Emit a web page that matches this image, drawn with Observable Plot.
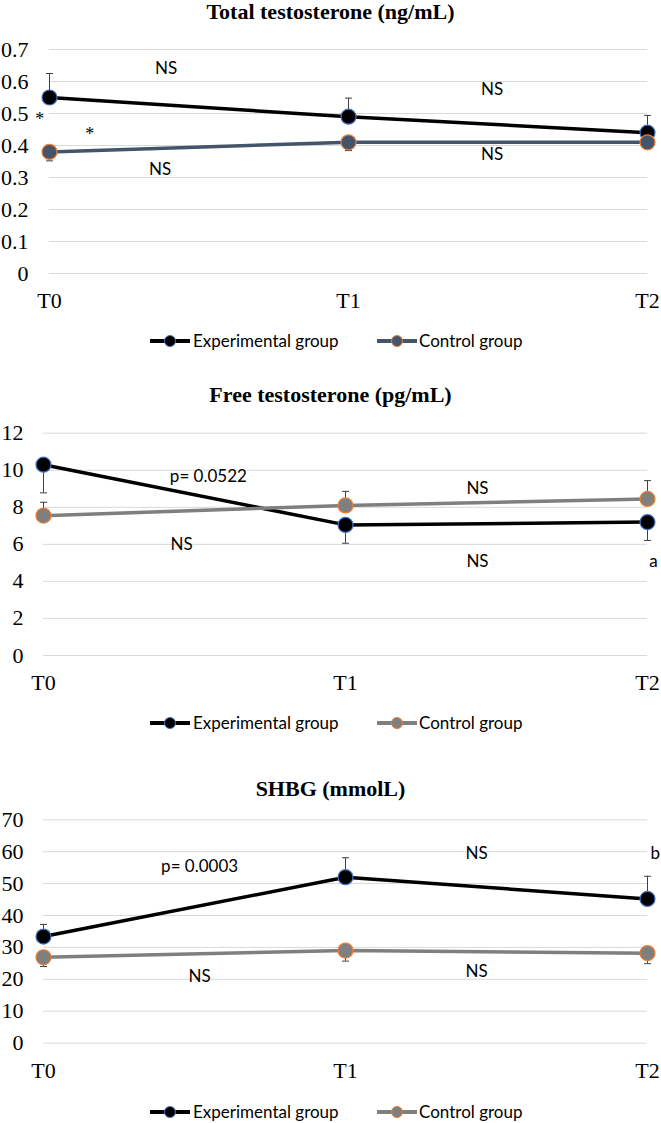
<!DOCTYPE html>
<html><head><meta charset="utf-8">
<script src="https://cdn.jsdelivr.net/npm/d3@7"></script>
<script src="https://cdn.jsdelivr.net/npm/@observablehq/plot@0.6"></script>
<style>
body{margin:0;background:#fff;}
#root{position:relative;width:661px;height:1123px;overflow:hidden;background:#fff;}
.title{position:absolute;left:0;width:661px;text-align:center;font:bold 22px "Liberation Serif",serif;line-height:22px;color:#000;}
.panel{position:absolute;left:0;}
.legend{position:absolute;left:0;width:661px;height:20px;font:17px Lato,sans-serif;color:#000;line-height:20px;}
.legend svg,.legend span{position:absolute;top:0;}
</style></head><body><div id="root"></div>
<script>
// ---- data ----
const times = ["T0", "T1", "T2"];

const ttTicks = [0, 0.1, 0.2, 0.3, 0.4, 0.5, 0.6, 0.7];
const ttExp = [0.55, 0.49, 0.44];
const ttExpErr = [0.075, 0.058, 0.054];
const ttCtl = [0.38, 0.41, 0.41];
const ttCtlErr = [-0.028, -0.026, -0.02];
const ttNotes = [
  {text: "NS", x: 0.39, y: 0.64},
  {text: "NS", x: 1.48, y: 0.575},
  {text: "NS", x: 1.48, y: 0.372},
  {text: "NS", x: 0.37, y: 0.325}
];
const ttStars = [
  {text: "*", x: -0.033, y: 0.494},
  {text: "*", x: 0.135, y: 0.447}
];

const ftTicks = [0, 2, 4, 6, 8, 10, 12];
const ftExp = [10.3, 7.05, 7.2];
const ftExpErr = [-1.52, -0.99, -0.99];
const ftCtl = [7.55, 8.1, 8.45];
const ftCtlErr = [0.72, 0.76, 0.99];
const ftNotes = [
  {text: "p= 0.0522", x: 0.546, y: 9.66},
  {text: "NS", x: 0.457, y: 5.99},
  {text: "NS", x: 1.437, y: 9.0},
  {text: "NS", x: 1.437, y: 5.07},
  {text: "a", x: 2.02, y: 5.07}
];

const shTicks = [0, 10, 20, 30, 40, 50, 60, 70];
const shExp = [33.4, 52.0, 45.2];
const shExpErr = [3.8, 6.1, 7.1];
const shCtl = [26.9, 29.0, 28.2];
const shCtlErr = [-2.9, -3.3, -3.3];
const shNotes = [
  {text: "p= 0.0003", x: 0.517, y: 55.5},
  {text: "NS", x: 0.517, y: 21.0},
  {text: "NS", x: 1.434, y: 59.3},
  {text: "NS", x: 1.434, y: 22.5},
  {text: "b", x: 2.026, y: 59.3}
];

const seriesNames = ["Experimental group", "Control group"];

// ---- drawing ----
const root = document.getElementById("root");
const capSymbol = {
  draw(ctx, size) {
    const r = Math.sqrt(size / Math.PI);
    ctx.moveTo(-r, 0);
    ctx.lineTo(r, 0);
  }
};
const serif = '"Liberation Serif", "Times New Roman", serif';
const sans = 'Lato, "Open Sans", sans-serif';

function rows(vals, errs) {
  return times.map((t, i) => ({x: i, t, v: vals[i], e: errs[i]}));
}

function panel(o) {
  const t = document.createElement("div");
  t.className = "title";
  t.style.top = (o.titleY - 11) + "px";
  t.textContent = o.title;
  root.appendChild(t);

  const exp = rows(o.exp, o.expErr);
  const ctl = rows(o.ctl, o.ctlErr);
  const err = exp.concat(ctl);
  const chart = Plot.plot({
    width: 661,
    height: o.height,
    marginLeft: o.marginLeft,
    marginRight: 14,
    marginTop: o.marginTop,
    marginBottom: o.marginBottom,
    style: {fontFamily: serif, fontSize: "22px", color: "#000", background: "transparent"},
    x: {type: "linear", domain: [0, 2]},
    y: {domain: [o.ticks[0], o.ticks[o.ticks.length - 1]]},
    marks: [
      Plot.gridY(o.ticks, {stroke: "#d9d9d9", strokeOpacity: 1, strokeWidth: 1}),
      Plot.axisY(o.ticks, {tickSize: 0, tickPadding: o.yPad, tickFormat: o.fmt, fontSize: 22, label: null}),
      Plot.axisX([0, 1, 2], {tickSize: 0, tickPadding: 19, tickFormat: i => times[i], fontSize: 22, label: null}),
      Plot.ruleX(err, {x: "x", y1: "v", y2: d => d.v + d.e, stroke: "#404040", strokeWidth: 1}),
      Plot.dot(err, {x: "x", y: d => d.v + d.e, symbol: capSymbol, r: 3.5, stroke: "#404040", fill: "none", strokeWidth: 1}),
      Plot.line(exp, {x: "x", y: "v", stroke: "#000", strokeWidth: 3.5}),
      Plot.dot(exp, {x: "x", y: "v", r: 7.5, fill: "#000", stroke: "#4472C4", strokeWidth: 1.2}),
      Plot.line(ctl, {x: "x", y: "v", stroke: o.ctlColor, strokeWidth: 3.5}),
      Plot.dot(ctl, {x: "x", y: "v", r: 7.5, fill: o.ctlColor, stroke: "#ED7D31", strokeWidth: 1.2}),
      Plot.text(o.notes, {x: "x", y: "y", text: "text", fontFamily: sans, fontSize: 17, fill: "#000"}),
      Plot.text(o.stars || [], {x: "x", y: "y", text: "text", fontFamily: serif, fontSize: 18, dy: 4, fill: "#000"})
    ]
  });
  const p = document.createElement("div");
  p.className = "panel";
  p.style.top = o.top + "px";
  p.appendChild(chart);
  root.appendChild(p);

  // legend
  const lg = document.createElement("div");
  lg.className = "legend";
  lg.style.top = (o.legendY - 10) + "px";
  const items = [
    {name: seriesNames[0], line: "#000", fill: "#000", stroke: "#4472C4", lx: 150, tx: 193},
    {name: seriesNames[1], line: o.ctlColor, fill: o.ctlColor, stroke: "#ED7D31", lx: 377, tx: 419}
  ];
  for (const it of items) {
    const s = d3.create("svg").attr("width", 40).attr("height", 20).style("left", it.lx + "px");
    s.append("line").attr("x1", 0).attr("x2", 40).attr("y1", 10).attr("y2", 10).attr("stroke", it.line).attr("stroke-width", 4);
    s.append("circle").attr("cx", 20).attr("cy", 10).attr("r", 5.5).attr("fill", it.fill).attr("stroke", it.stroke).attr("stroke-width", 1);
    lg.appendChild(s.node());
    const sp = document.createElement("span");
    sp.style.left = it.tx + "px";
    sp.textContent = it.name;
    lg.appendChild(sp);
  }
  root.appendChild(lg);
}

panel({
  title: "Total testosterone (ng/mL)", titleY: 12,
  top: 30, height: 295, marginLeft: 49, marginTop: 19, marginBottom: 52, yPad: 21,
  ticks: ttTicks, fmt: d => d === 0 ? "0" : d.toFixed(1),
  exp: ttExp, expErr: ttExpErr, ctl: ttCtl, ctlErr: ttCtlErr, ctlColor: "#44546A",
  notes: ttNotes, stars: ttStars, legendY: 341
});
panel({
  title: "Free testosterone (pg/mL)", titleY: 395,
  top: 410, height: 300, marginLeft: 43, marginTop: 22.7, marginBottom: 55, yPad: 20,
  ticks: ftTicks, fmt: d => String(d),
  exp: ftExp, expErr: ftExpErr, ctl: ftCtl, ctlErr: ftCtlErr, ctlColor: "#7F7F7F",
  notes: ftNotes, legendY: 723
});
panel({
  title: "SHBG (mmolL)", titleY: 789,
  top: 800, height: 295, marginLeft: 43, marginTop: 19.3, marginBottom: 52.4, yPad: 20,
  ticks: shTicks, fmt: d => String(d),
  exp: shExp, expErr: shExpErr, ctl: shCtl, ctlErr: shCtlErr, ctlColor: "#7F7F7F",
  notes: shNotes, legendY: 1112
});
</script></body></html>
